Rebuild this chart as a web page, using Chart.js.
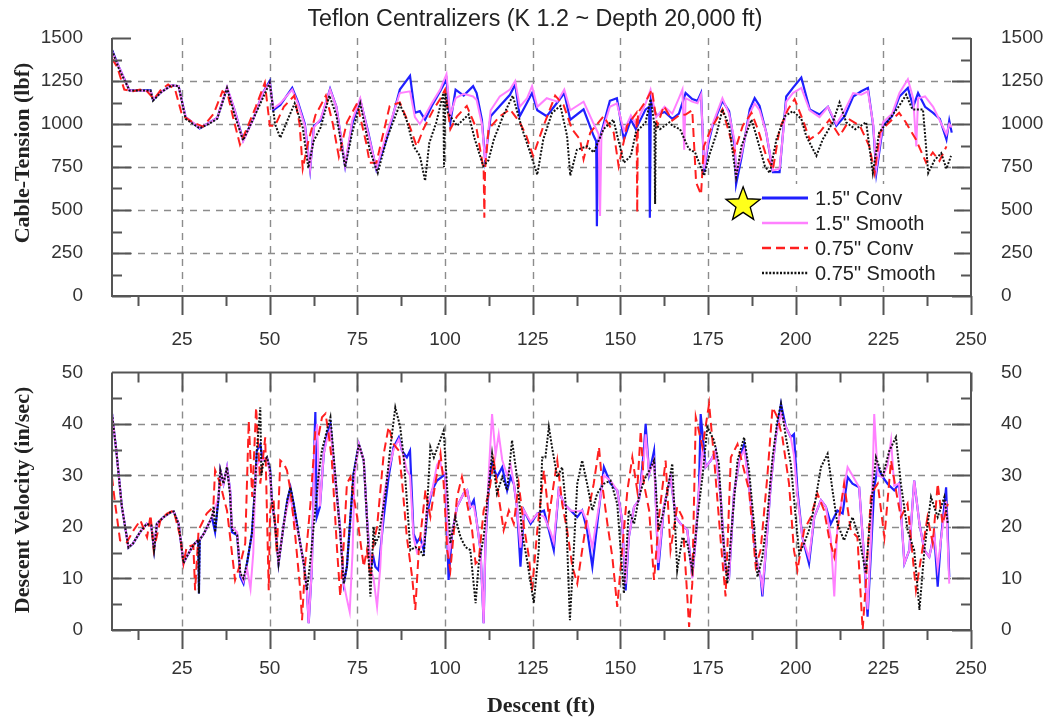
<!DOCTYPE html>
<html lang="en">
<head>
<meta charset="UTF-8">
<title>Teflon Centralizers</title>
<script src="https://cdn.jsdelivr.net/npm/chart.js"></script>
<style>
    html, body { margin: 0; padding: 0; background: #fff; }
    #wrap { position: relative; width: 1044px; height: 721px; }
    #tension { position: absolute; left: 0; top: 0; }
    #velocity { position: absolute; left: 0; top: 339px; }
</style>
</head>
<body>
<div id="wrap">
    <canvas id="tension" width="1044" height="360"></canvas>
    <canvas id="velocity" width="1044" height="382"></canvas>
</div>
<script>
// ---- data: [descent ft, value] ----
const seriesLabels = ['1.5" Conv', '1.5" Smooth', '0.75" Conv', '0.75" Smooth'];
const starPoint = [185, 530];

// cable tension (lbf)
const tensionConv15 = [[5,1430],[7,1330],[10,1195],[13,1195],[16,1195],[16.7,1140],[19,1185],[22,1225],[24,1220],[26,1040],[30,975],[33,1010],[35,1035],[37.8,1210],[40,1080],[42.4,905],[45.3,1030],[48,1180],[50,1250],[51,1080],[53,1110],[56.4,1210],[58,1130],[60,1000],[61.5,735],[62.6,990],[64.5,1020],[67.2,1205],[69,1100],[71.5,755],[73.5,1000],[75.8,1140],[78,960],[80.4,735],[83.3,910],[87.1,1200],[90,1280],[91.4,1065],[92.8,1075],[94.3,1025],[96.2,1105],[98.6,1190],[100.4,1260],[101.5,1010],[103,1200],[105.3,1165],[108,1220],[109,1180],[110.5,1025],[111.4,795],[113,1045],[115.6,1105],[118.5,1170],[120,1230],[121.3,1045],[123.4,1125],[124.8,1180],[126.3,1080],[129,1045],[132,1125],[134,1180],[135.7,1025],[139.5,1085],[142.4,930],[143.1,900],[143.3,405],[143.6,900],[144.3,930],[147,1135],[149,1150],[151,910],[153,1025],[154.4,970],[157.2,1085],[158.2,1100],[158.4,455],[158.7,1150],[160.2,1050],[162.6,1070],[164.8,1030],[166.7,1060],[168.6,1180],[170.5,1145],[172,1135],[173,1180],[173.9,720],[175,880],[176.3,990],[179.1,1135],[181,1075],[182.6,870],[183,650],[184.5,800],[186.9,1085],[188.3,1150],[189.7,1105],[191.6,950],[193.5,720],[195.4,720],[197.3,1160],[199.2,1210],[201.6,1270],[204,1085],[206.8,1055],[209.2,1100],[211.6,990],[214,1045],[216.4,1160],[218.7,1190],[220.6,1210],[222.1,990],[223,715],[224.9,990],[227.5,1045],[229.6,1160],[232,1210],[233.5,1100],[234.9,1180],[236.9,1100],[239.2,1065],[241.1,1030],[243,910],[243.8,1020],[244.5,950]];
const tensionSmooth15 = [[5,1420],[7,1330],[10,1195],[13,1195],[16,1190],[16.7,1145],[19,1185],[22,1225],[24,1220],[26,1040],[30,978],[33,1010],[35,1035],[37.8,1215],[40,1080],[42.4,900],[45.3,1030],[48,1180],[50,1240],[51,1090],[53,1120],[56.4,1200],[58,1120],[60,990],[61.5,740],[62.6,980],[64.5,1030],[67.2,1200],[69,1100],[71.5,760],[73.5,1020],[75.8,1150],[78,950],[80.4,740],[83.3,940],[87.1,1180],[90,1190],[91.4,1040],[92.8,1000],[94.3,1050],[96.2,1120],[98.6,1200],[100.4,1290],[101.5,1050],[103,1150],[105.3,1175],[108,1160],[109,1140],[110.5,1000],[111.4,790],[113,1080],[115.6,1160],[118.5,1200],[120,1250],[121.3,1100],[123.4,1150],[124.8,1220],[126.3,1100],[129,1150],[132,1130],[134,1200],[135.7,1080],[139.5,1130],[142.4,1000],[143.8,940],[144.2,465],[144.6,940],[147,1100],[149,1120],[151,960],[153,1050],[154.4,1000],[157.2,1120],[158.6,1200],[160.2,1040],[162.6,1100],[164.8,1060],[166.7,1150],[167.7,1200],[168.2,850],[168.6,1150],[170.5,1130],[172,1120],[173,1170],[173.9,740],[175,900],[176.3,1000],[179.1,1150],[181,1060],[182.6,900],[183,700],[184.5,820],[186.9,1060],[188.3,1120],[189.7,1080],[191.6,950],[193.5,730],[195.4,740],[197.3,1130],[199.2,1180],[201.6,1210],[204,1080],[206.8,1040],[209.2,1100],[211.6,1000],[214,1080],[216.4,1180],[218.7,1170],[220.6,1190],[222.1,1000],[223,740],[224.9,1010],[227.5,1060],[229.6,1180],[232,1260],[233.5,1150],[234.4,870],[234.9,1150],[236.9,1160],[239.2,1100],[241.1,1020],[243,940],[243.8,1000],[244.5,980]];
const tensionConv075 = [[5,1380],[6.5,1330],[8.5,1200],[11,1190],[13,1200],[15,1190],[17,1145],[19,1200],[21,1230],[23,1200],[25,1050],[28,1010],[31,985],[34,1060],[36.5,1190],[38,1170],[40,1000],[41.5,880],[44,1000],[46,1100],[48.6,1240],[50,990],[51.5,990],[54,1100],[57,1165],[58.5,1000],[59.4,740],[61,900],[63,1050],[66,1165],[68,1000],[69.7,810],[72,1010],[74.9,1120],[77.5,890],[78.5,775],[80.4,775],[84.2,1105],[87.1,1125],[89.5,1010],[91.9,870],[93.8,970],[96.7,1085],[98.6,1145],[100,1200],[101.5,970],[103.4,1045],[106.2,1105],[109,970],[111,735],[111.2,455],[111.4,735],[112.4,970],[115.6,1045],[118.5,1085],[121.3,1010],[123.2,930],[125.1,815],[128.1,990],[131.4,1165],[133.8,1110],[136.2,970],[138.5,910],[139.5,795],[141.4,950],[145.2,1045],[148.1,950],[149.5,755],[151.9,990],[154.6,1065],[154.8,485],[155,1065],[157.6,1145],[159,1200],[160.5,990],[162.4,1105],[164.8,1020],[166.7,1050],[168.6,1055],[170.5,1080],[171.6,660],[173,590],[173.8,870],[175.8,970],[179.1,1085],[181,950],[182.5,835],[184.9,990],[187.4,1065],[189.2,970],[191.6,815],[193.5,735],[195.4,970],[197.8,1085],[199.7,1145],[202,1025],[204,910],[206.8,950],[209.6,1025],[212.5,930],[215.4,1025],[218.3,990],[221,870],[222.5,715],[224,950],[225.7,990],[229.5,1065],[231.4,1010],[234.3,910],[237.2,775],[239.1,835],[241,785],[243,870]];
const tensionSmooth075 = [[5,1430],[7,1320],[10,1195],[13,1195],[16,1195],[16.7,1135],[19,1185],[22,1225],[24,1220],[26,1030],[30,975],[33,1005],[35,1030],[37.8,1210],[40,1050],[42.4,905],[45.3,1030],[48,1150],[50,1240],[51.5,1000],[53,920],[55,1020],[57.1,1120],[59.4,980],[61,745],[62.5,900],[64.5,980],[67,1165],[69,1050],[71.5,750],[73.5,950],[75.8,1120],[78.5,850],[80.8,715],[83.3,910],[87.1,1115],[89,1025],[91,870],[92.8,815],[94.3,670],[95.5,890],[97.5,1010],[99.5,1180],[99.7,750],[100.1,1180],[100.8,1065],[103.4,990],[106.7,1055],[108.5,910],[110.9,755],[112.4,790],[113.9,910],[116.5,1045],[119.3,1165],[122,970],[124,850],[126.3,705],[128,910],[130.5,1065],[132.9,1105],[134.8,930],[135.7,700],[137.6,850],[140.5,870],[142.4,835],[145.2,970],[148,1025],[151,775],[153,815],[154.4,950],[157.2,1010],[158.6,1145],[159.7,1000],[159.9,535],[160.1,1000],[161.3,970],[164,1010],[164.8,990],[167,970],[169.5,855],[171.3,835],[173.9,700],[175.3,815],[177.5,950],[179.1,1085],[181,990],[183,690],[184.5,870],[187.4,1025],[188.8,930],[191.2,755],[192.6,715],[194.5,910],[196.9,1045],[199.2,1075],[201.6,1030],[203,930],[205.9,815],[207.7,910],[210.6,1010],[212.5,1125],[214.4,1010],[217,970],[220.1,1010],[222,715],[223.8,950],[226.6,1025],[229.5,1105],[231.5,1170],[233.3,1085],[236.3,1085],[237.8,715],[239.6,790],[241.5,830],[243,740],[244.3,815]];

// descent velocity (in/sec)
const velocityConv15 = [[5,42],[6.2,35],[7.8,24],[9.7,16],[11,16.8],[13,19],[14.9,20.6],[16.2,20.3],[17,15.5],[17.8,20.6],[19.7,21.9],[21.6,22.8],[22.6,23],[24,20.6],[25.4,13],[26.3,14.2],[28.2,16.5],[29.6,17.5],[29.8,7.1],[30,17.5],[31.2,18.7],[33.5,21.9],[34.4,19],[35.4,25.8],[35.9,31],[36.8,28.4],[37.8,31.6],[38.7,27],[39.2,19],[40.7,18.4],[41.6,10.3],[42.5,9],[43.5,12.9],[44.9,18.7],[45.8,27.7],[46.3,34.8],[47.3,36],[48,33],[49.2,33.5],[50.1,31],[50.6,25.2],[51.5,20.6],[52.5,12.9],[53,15.5],[54,20.6],[55,25.2],[55.9,27.7],[56.8,24.5],[58.2,18.7],[59.7,12.9],[60.6,7.7],[61.1,1.3],[62,12],[62.8,38],[63,42.3],[63.4,21.9],[64.3,23.9],[65.4,34.2],[66.3,38],[67.3,40],[68.2,32.9],[69.2,25.8],[70.1,19.4],[71.1,9],[72,12.3],[73,21.9],[73.9,30.3],[75.4,36.1],[76.8,32.9],[77.7,21.9],[78.7,12],[79.6,14],[80.1,12.3],[81,11.6],[82.5,21.9],[83.9,29.7],[85.3,35.5],[86.8,37.4],[87.7,34.8],[89.1,33.5],[90,34.8],[91,18.7],[92,17],[92.9,18],[93.9,15.5],[94.9,22.6],[96.3,27.1],[97.7,29],[99.1,29.7],[100.1,30.3],[101,9.7],[102,18.7],[103.4,23.9],[105.3,26.5],[106.3,27.1],[107.2,23.9],[108.2,25.2],[109.1,20.6],[110.1,15.5],[111,1.3],[111.5,16.8],[112.5,28.4],[113.4,32.3],[114.8,29.7],[116.3,31.6],[117.7,27.1],[118.7,29.7],[119.6,28.4],[120.5,23.9],[121.5,12.3],[122.5,23.2],[124.4,20.6],[126.3,22.6],[128.2,23.2],[130.1,18],[131,15.5],[132.4,27.1],[133.9,24.5],[135.8,23.2],[137.7,21.9],[139.1,23.2],[140.5,19.4],[142,12.3],[143.4,20.6],[145.3,31.6],[147.2,28.4],[149.1,27.1],[150.5,21.3],[151.5,7.7],[152.4,18],[153.9,23.9],[155.3,25.2],[156.7,34.8],[157.2,40],[158.2,30.3],[159.6,34.8],[160.8,11.6],[162.4,23.9],[164.3,29.7],[165.8,21.9],[167.2,20.6],[169.1,19.4],[170.5,10.3],[171.5,18],[172.4,27.1],[172.9,41.9],[174.3,31.6],[175.8,32.9],[177.2,34.8],[178.6,25.8],[180,11.6],[181,10.3],[182.4,26.5],[183.9,32.9],[185.3,36.1],[186.7,28.4],[188.6,14.2],[190,10.3],[190.5,6.5],[191.5,15.5],[192.9,28.4],[194.3,37.4],[195.8,43.9],[197.2,39.4],[198.6,37.4],[199.5,38],[200.5,27.1],[201.9,18],[203.8,12.9],[205.3,21.9],[207.2,25.2],[208.6,23.9],[210,20.6],[211.9,23.2],[213.4,22.6],[214.8,29.7],[216.2,28.4],[218.1,27.7],[219.5,14.2],[220.5,2.6],[221.5,15.5],[222.4,27.7],[223.4,31.6],[224.8,29.7],[226.2,28.4],[228.1,27.1],[229.5,28.4],[231,12.9],[232.4,15.5],[233.8,29],[235.3,20.6],[236.7,15.5],[238.1,14.2],[239.5,18.7],[240.5,8.4],[241.4,17.4],[242.9,27.7],[243.8,10.3]];
const velocitySmooth15 = [[5,42],[6.2,35],[7.8,24],[9.7,16],[11,16.8],[13,19],[14.9,20.6],[16.2,20.3],[17,16],[17.8,20.6],[19.7,21.9],[21.6,22.8],[22.6,23],[24,20.6],[25.4,13],[26.3,14.2],[28.2,16.5],[29.6,17.5],[30,17.5],[31.2,18.7],[33.5,21.9],[35.4,25.8],[35.9,31],[36.8,28.4],[37.8,31.6],[38.7,27],[39.2,20],[40.7,19],[41.6,11],[42.5,9.5],[43.5,12],[44.5,8],[45.3,15],[45.8,27.7],[46.3,32],[47.3,33],[48,33],[49.2,33.5],[50.1,30],[50.6,25.2],[51.5,20.6],[52.5,13],[53,15.5],[54,20.6],[55,24],[55.9,26],[56.8,22],[58.2,18.7],[59.7,12.9],[60.6,7.7],[61.1,1.3],[62,12],[62.8,36],[63.5,40],[64.3,24],[65.4,34.2],[66.3,37],[67.3,39],[68.2,32.9],[69.2,25.8],[70.1,19.4],[71.1,9],[72,6],[72.8,3.5],[73.6,15],[74.2,30],[75.4,36.1],[76.8,32.9],[77.7,21.9],[78.7,12],[79.6,10],[80.6,4.5],[81.5,12],[82.5,26],[83.9,31],[85.3,35],[86.8,37],[87.7,35],[89.1,31],[90,30],[91,18],[92,15],[92.9,16],[93.9,17],[94.9,24],[96.3,27.1],[97.7,32],[98.5,33],[99.1,31],[100.1,30.3],[101,14],[102,18.7],[103.4,23.9],[105.3,26.5],[106.3,27.1],[107.2,23.9],[108.2,24],[109.1,20.6],[110.1,15.5],[111,1.3],[111.5,16.8],[112.5,31],[113.4,41.9],[114.4,34],[115.3,38],[116.3,33],[117.7,30],[118.7,32],[119.6,28.4],[120.5,23.9],[121.5,16],[122.5,23.2],[124.4,21],[126.3,22.6],[128.2,22],[130.1,19],[131,17],[132.4,27.1],[133.9,24.5],[135.8,23.2],[137.7,23],[139.1,23.2],[140.5,21],[142,16],[143.4,22],[145.3,30],[147.2,29],[149.1,27.1],[150.5,21.3],[151.5,9],[152.4,18],[153.9,23.9],[155.3,25.2],[156.7,33],[157.2,38],[158.2,30.3],[159.6,33],[160.8,13],[162.4,23.9],[164.3,29.7],[165.8,21.9],[167.2,20.6],[169.1,19.4],[170.5,10],[171.5,18],[172.4,27.1],[173.4,35],[174.3,31.6],[175.8,32.9],[177.2,34.8],[178.6,25.8],[180,11.6],[181,10.3],[182.4,26.5],[183.9,32.9],[185.3,35],[186.7,28.4],[188.6,14.2],[190,10.3],[190.5,8],[191.5,15.5],[192.9,28.4],[194.3,37.4],[195.8,42],[197.2,39.4],[198.6,37.4],[199.5,34],[200.5,26],[201.9,18],[203.8,14],[205.3,21.9],[207.2,25.2],[208.6,23.9],[210,18],[211,6.5],[211.9,20],[213.4,26],[214.8,31.6],[216.2,30],[218.1,27.7],[219.5,14.2],[220.5,4],[221.5,18],[222.4,41.9],[223.4,30],[224.8,29.7],[226.2,32],[227.2,36.8],[228.1,28],[229.5,28.4],[231,12.9],[232.4,15.5],[233.8,29],[235.3,20.6],[236.7,15.5],[238.1,14.2],[239.5,18.7],[240.5,12],[241.4,17.4],[242.9,25],[243.8,9]];
const velocityConv075 = [[5,29.7],[5.8,25],[7.3,17.4],[9.2,17],[11.2,19.4],[13.1,21.3],[15,18],[16,22.3],[16.9,15.5],[18.8,21.3],[20.7,22.6],[22.6,23.2],[24.5,18],[25.4,12.9],[26.3,16.1],[28.2,16.5],[28.7,7.7],[29.7,19.4],[32,22.6],[33.9,23.9],[34.4,31],[35.9,28.4],[36.8,25.8],[37.8,23.2],[38.7,18],[40.1,9.7],[41.6,12.9],[43,16.8],[44,40.6],[45,25.8],[46.1,43.2],[47.3,28.4],[48.7,37.4],[49.7,7.7],[50.1,23.2],[51.1,25.2],[52,14.8],[53,32.9],[54,32.3],[54.9,31],[55.9,27.1],[57.3,18],[58.7,7.7],[59.2,1.9],[60.1,12.9],[61.6,24.5],[63,38.7],[64,38],[64.9,41.3],[65.9,42],[66.8,38],[67.7,32.9],[69.2,15.5],[70.1,6.5],[71.1,16.8],[72,28.4],[73,29.7],[74.9,22],[76.8,12.3],[77.7,15.5],[78.7,10.3],[79.6,17],[80.6,20],[82.5,34.2],[83.9,39.4],[85.3,36.1],[86.8,34.8],[87.7,29],[89.1,18],[90.6,10.3],[91.5,3.9],[92.5,15.5],[94.4,27.1],[95.8,22],[97.2,28.4],[98.7,34.2],[99.6,28.4],[100.6,15.5],[101.5,11.6],[103.4,25.8],[104.8,29.7],[106.3,24.5],[107.7,19.4],[108.7,12.9],[109.6,13.5],[111,23.2],[112.5,26.5],[113.9,32.9],[115.3,25.8],[116.7,19.4],[118.2,23.2],[119.6,20.6],[121,28.4],[122.5,20],[123.9,14.2],[124.8,7.7],[126.3,19.4],[128.2,31],[129.6,21.9],[131,28.4],[132,32.9],[133.4,24.5],[134.8,19.4],[136.3,12.3],[137.7,9],[139.1,15.5],[140.5,21.9],[142.4,28.4],[143.9,35.5],[144.8,28.4],[146.3,20.6],[147.7,14.2],[149.1,4.5],[150.5,15.5],[152,27.1],[153.4,33.5],[154.8,27.1],[155.8,38.7],[156.7,28.4],[158.2,23.2],[159.6,9.7],[161,21.9],[162.9,32.9],[164.3,15.5],[166.2,23.9],[167.7,21.9],[169.6,0.6],[170.5,9],[171.5,41.3],[173.4,35.5],[175.3,43.9],[176.7,33.5],[178.6,17.4],[180,6.5],[181.5,33.5],[183.4,36.1],[184.8,32.3],[186.7,27.1],[188.6,12.3],[190,15.5],[191.9,29.7],[193.4,43.2],[194.8,41.3],[196.2,37.4],[198.1,28.4],[199.5,15.5],[200.5,11.6],[202.4,19.4],[204.3,21.9],[206.2,26.5],[208.1,23.2],[209.5,18],[211,14.2],[212.4,21.9],[213.8,28.4],[215.7,19.4],[217.6,18],[219.1,0],[220,9],[221.5,26.5],[223.4,28.4],[225.3,18],[227.2,32.9],[228.6,27.1],[230,21.9],[231.9,24.5],[234.3,7.7],[235.8,14.2],[237.6,21.9],[239.1,16.8],[240.5,28.4],[241.9,20.6],[243.4,24.5]];
const velocitySmooth075 = [[5,42],[6.2,35],[7.8,24],[9.7,16],[11,16.8],[13,19],[14.9,20.6],[16.2,20.3],[17,15.5],[17.8,20.6],[19.7,21.9],[21.6,22.8],[22.6,23],[24,20.6],[25.4,13],[26.3,14.2],[28.2,16.5],[29.6,17.5],[29.8,7.1],[30,17.5],[31.2,18.7],[33.5,21.9],[34,24],[34.4,19],[35.4,25.8],[35.9,31],[36.8,28.4],[37.8,31.6],[38.7,26],[39.2,19.5],[40.7,18.4],[41.6,11],[42.5,10],[43.5,13],[44.9,18.7],[45.8,27.7],[46.3,34.8],[47.3,43.2],[47.6,30],[48.1,32.3],[49.2,33.5],[50.1,31],[50.6,25.2],[51.5,20.6],[52.5,12.9],[53,15.5],[54,20.6],[55,25.2],[55.9,27.7],[56.8,24.5],[58.2,18.7],[59.7,12.9],[60.6,7.7],[61.5,13],[62.8,22],[63.9,30],[64.9,35],[66.3,38.7],[67.3,41.3],[68.2,34],[69.2,25.8],[70.1,18.7],[71.1,9],[72,12.3],[73,21.9],[73.9,30.3],[75.4,36.1],[76.8,32.9],[77.7,21.9],[78.7,6.5],[79.6,20],[80.1,16.8],[81,18],[83,26.5],[84.4,35.5],[85.8,43.2],[87.2,39.4],[88.2,33.5],[89.1,25.2],[90.1,15.5],[91.5,16.1],[92.9,15.5],[93.9,14.2],[94.9,24.2],[95.8,35.5],[96.8,33.5],[98.2,36.1],[99.6,38.7],[100.4,29.7],[101.5,16.8],[102.9,21.9],[104.4,18],[105.8,16.1],[107.2,15.5],[108.7,5.2],[109.6,12.9],[111,18],[112.5,28.4],[113.4,34.2],[114.8,26.5],[116.3,29.7],[117.7,27.1],[119.1,36.8],[120.5,29.7],[122,18.7],[123.4,13.5],[125.3,5.2],[126.7,15.5],[127.7,33.5],[128.6,33.5],[129.6,39.4],[130.5,35.5],[132,29.7],[133.4,31.6],[134.4,24.5],[135.6,1.9],[136.7,15.5],[137.7,28.4],[139.1,32.9],[140.5,28.4],[142,23.2],[143.4,26.5],[145.3,28.4],[147.2,29],[149.1,24.5],[151,7.1],[152.4,23.2],[153.9,20.6],[155.3,25.8],[156.7,29],[158.2,30.9],[159.6,32.9],[160.9,19.4],[162.4,23.2],[164.8,32.3],[166.2,11.6],[167.7,18],[169.1,16.8],[170.5,11.6],[172,21.9],[173.4,29.7],[174.8,39.4],[176.7,36.8],[178.1,32.3],[179.1,19.4],[180.5,9],[182,21.9],[183.4,32.9],[185.3,37.4],[186.7,31],[188.1,20.6],[189.1,10.3],[190.5,14.2],[191.9,21.9],[193.4,33.5],[194.8,40.6],[195.8,43.9],[197.2,37.4],[198.6,32.3],[200,21.9],[201,14.8],[202.4,16.8],[203.8,19.4],[205.3,23.9],[207.2,31.6],[209.1,34.2],[210.5,27.1],[211.9,20.6],[213.8,17.4],[216.2,21.9],[218.1,18],[220,11],[221.5,23.9],[222.9,33.5],[224.8,29.7],[226.7,34.8],[228.6,37.4],[230,28.4],[231.9,19.4],[233.8,15.5],[235.3,3.9],[236.7,15.5],[238.6,25.8],[240.5,21.9],[242.4,25.8],[243.4,20.6]];

// ---- styling ----
Chart.defaults.font.family = 'Liberation Sans';
const X_MIN = 5, X_MAX = 250;
const styles = [
    { color: '#1f1fff', width: 2.2, dash: [], order: 3 },
    { color: '#ff80ff', width: 2, dash: [], order: 2 },
    { color: '#ff1f1f', width: 2, dash: [9, 5], order: 1 },
    { color: '#111111', width: 2, dash: [2, 1.6], order: 0 }
];

function range(a, b, s) {
    const r = [];
    for (let v = a; v <= b + 1e-9; v += s) r.push(+v.toFixed(3));
    return r;
}

function makeDatasets(list) {
    return list.map((pts, i) => ({
        label: seriesLabels[i],
        data: pts.map(p => ({ x: p[0], y: p[1] })),
        borderColor: styles[i].color,
        borderWidth: styles[i].width,
        borderDash: styles[i].dash,
        order: styles[i].order,
        pointRadius: 0,
        tension: 0,
        fill: false
    }));
}

function drawStar(ctx, cx, cy, R, r) {
    ctx.beginPath();
    for (let k = 0; k < 10; k++) {
        const ang = -Math.PI / 2 + k * Math.PI / 5;
        const rad = k % 2 ? r : R;
        ctx.lineTo(cx + rad * Math.cos(ang), cy + rad * Math.sin(ang));
    }
    ctx.closePath();
    ctx.fillStyle = '#ffff1a';
    ctx.fill();
    ctx.strokeStyle = '#000';
    ctx.lineWidth = 1.3;
    ctx.stroke();
}

const framePlugin = {
    id: 'frame',
    beforeDatasetsDraw(chart, args, o) {
        const ctx = chart.ctx, a = chart.chartArea, sx = chart.scales.x, sy = chart.scales.y;
        ctx.save();
        ctx.strokeStyle = '#8c8c8c';
        ctx.lineWidth = 1.4;
        ctx.setLineDash([7, 6]);
        ctx.beginPath();
        range(25, 225, 25).forEach(v => {
            const p = Math.round(sx.getPixelForValue(v)) + 0.5;
            ctx.moveTo(p, a.top); ctx.lineTo(p, a.bottom);
        });
        range(o.yStep, o.yMax - o.yStep, o.yStep).forEach(v => {
            const p = Math.round(sy.getPixelForValue(v)) + 0.5;
            ctx.moveTo(a.left, p); ctx.lineTo(a.right, p);
        });
        ctx.stroke();
        ctx.restore();
    },
    afterDatasetsDraw(chart, args, o) {
        const ctx = chart.ctx, a = chart.chartArea, sx = chart.scales.x, sy = chart.scales.y;
        ctx.save();
        ctx.strokeStyle = '#555';
        ctx.lineWidth = 2;
        ctx.setLineDash([]);
        ctx.beginPath();
        ctx.moveTo(a.left, a.top); ctx.lineTo(a.left, a.bottom);
        ctx.lineTo(a.right, a.bottom); ctx.lineTo(a.right, a.top);
        if (o.topBorder) { ctx.moveTo(a.left, a.top); ctx.lineTo(a.right, a.top); }
        range(0, o.yMax, o.yStep / 2).forEach((v, i) => {
            const p = Math.round(sy.getPixelForValue(v)) + 0.5;
            const len = i % 2 ? 10 : 19;
            ctx.moveTo(a.left, p); ctx.lineTo(a.left + len, p);
            ctx.moveTo(a.right, p); ctx.lineTo(a.right - len, p);
        });
        range(12.5, 250, 12.5).forEach((v, i) => {
            const p = Math.round(sx.getPixelForValue(v)) + 0.5;
            const len = i % 2 ? 19 : 10;
            ctx.moveTo(p, a.bottom); ctx.lineTo(p, a.bottom + len);
            if (o.topBorder) { ctx.moveTo(p, a.top); ctx.lineTo(p, a.top + len); }
        });
        ctx.stroke();
        ctx.restore();
    },
    afterDraw(chart, args, o) {
        const ctx = chart.ctx, sx = chart.scales.x, sy = chart.scales.y;
        ctx.save();
        ctx.fillStyle = '#222';
        ctx.textAlign = 'center';
        ctx.textBaseline = 'middle';
        if (o.title) {
            // stretch the title font to the width it has in the original figure
            ctx.font = '20px "Liberation Sans"';
            const size = 20 * o.titleWidth / ctx.measureText(o.title).width;
            ctx.font = size.toFixed(1) + 'px "Liberation Sans"';
            ctx.fillText(o.title, 535, 20);
        }
        if (o.yTitle) {
            ctx.save();
            ctx.translate(23, o.yTitleY);
            ctx.rotate(-Math.PI / 2);
            ctx.font = 'bold 22px "Liberation Serif"';
            ctx.fillText(o.yTitle, 0, 0);
            ctx.restore();
        }
        if (o.xTitle) {
            ctx.font = 'bold 22px "Liberation Serif"';
            ctx.fillText(o.xTitle, 541, o.xTitleY);
        }
        if (o.legend) {
            ctx.fillStyle = '#fff';
            ctx.fillRect(749, 184, 205, 102);
            chart.data.datasets.forEach((ds, i) => {
                const y = 198 + i * 25;
                ctx.strokeStyle = ds.borderColor;
                ctx.lineWidth = ds.borderWidth + 0.6;
                ctx.setLineDash(ds.borderDash);
                ctx.beginPath();
                ctx.moveTo(762, y); ctx.lineTo(808, y);
                ctx.stroke();
                ctx.setLineDash([]);
                ctx.fillStyle = '#222';
                ctx.textAlign = 'left';
                ctx.font = '20px "Liberation Sans"';
                ctx.fillText(ds.label, 815, y + 1);
            });
            drawStar(ctx, sx.getPixelForValue(starPoint[0]), sy.getPixelForValue(starPoint[1]), 18, 7.5);
        }
        ctx.restore();
    }
};

function makeScales(yMax, yStep, xHeight, xPad) {
    const tickFont = { family: 'Liberation Sans', size: 19 };
    const yTicks = s => { s.ticks = range(0, yMax, yStep).map(v => ({ value: v })); };
    return {
        x: {
            type: 'linear', min: X_MIN, max: X_MAX,
            grid: { display: false }, border: { display: false },
            afterBuildTicks: s => { s.ticks = range(25, 250, 25).map(v => ({ value: v })); },
            afterFit: s => { s.height = xHeight; },
            ticks: { font: tickFont, color: '#333', padding: xPad, maxRotation: 0, autoSkip: false, callback: v => String(v) }
        },
        y: {
            position: 'left', min: 0, max: yMax,
            grid: { display: false }, border: { display: false },
            afterBuildTicks: yTicks,
            afterFit: s => { s.width = 112; },
            ticks: { font: tickFont, color: '#333', padding: 21, callback: v => String(v) }
        },
        y2: {
            position: 'right', min: 0, max: yMax,
            grid: { display: false }, border: { display: false },
            afterBuildTicks: yTicks,
            afterFit: s => { s.width = 73; },
            ticks: { font: tickFont, color: '#333', padding: 22, callback: v => String(v) }
        }
    };
}

new Chart(document.getElementById('tension'), {
    type: 'line',
    data: { datasets: makeDatasets([tensionConv15, tensionSmooth15, tensionConv075, tensionSmooth075]) },
    options: {
        responsive: false, animation: false, devicePixelRatio: 1,
        layout: { padding: { top: 38, left: 0, right: 0, bottom: 0 } },
        scales: makeScales(1500, 250, 64, 24),
        plugins: {
            legend: { display: false }, tooltip: { enabled: false },
            frame: {
                yMax: 1500, yStep: 250, topBorder: false,
                title: 'Teflon Centralizers (K 1.2 ~ Depth 20,000 ft)', titleWidth: 456,
                yTitle: 'Cable-Tension (lbf)', yTitleY: 153,
                legend: true
            }
        }
    },
    plugins: [framePlugin]
});

new Chart(document.getElementById('velocity'), {
    type: 'line',
    data: { datasets: makeDatasets([velocityConv15, velocitySmooth15, velocityConv075, velocitySmooth075]) },
    options: {
        responsive: false, animation: false, devicePixelRatio: 1,
        layout: { padding: { top: 33, left: 0, right: 0, bottom: 0 } },
        scales: makeScales(50, 10, 91, 19),
        plugins: {
            legend: { display: false }, tooltip: { enabled: false },
            frame: {
                yMax: 50, yStep: 10, topBorder: true,
                yTitle: 'Descent Velocity (in/sec)', yTitleY: 161,
                xTitle: 'Descent (ft)', xTitleY: 367
            }
        }
    },
    plugins: [framePlugin]
});
</script>
</body>
</html>
